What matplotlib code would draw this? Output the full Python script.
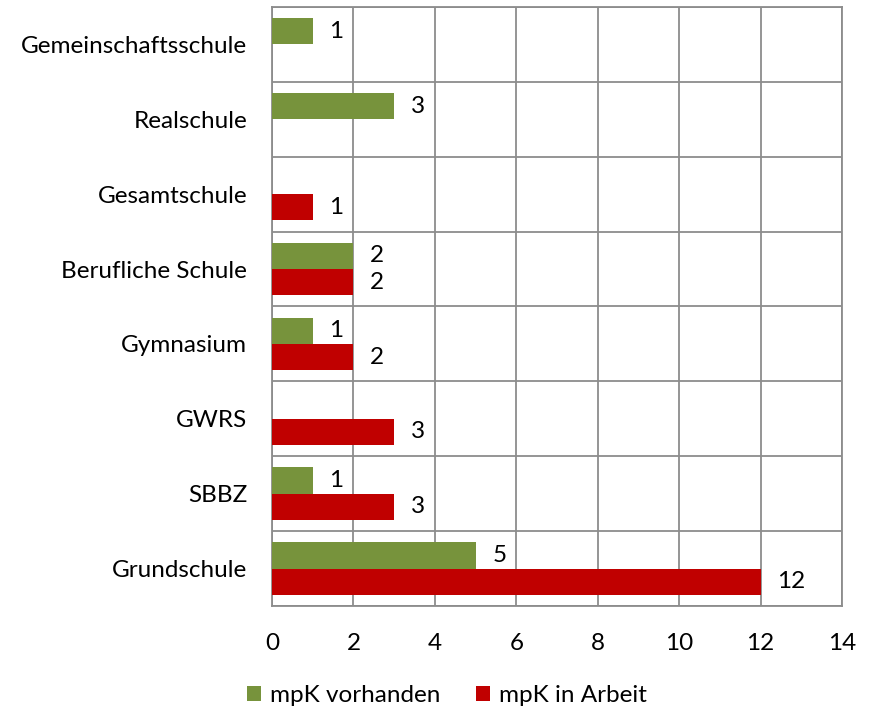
import numpy as np
import matplotlib.pyplot as plt

plt.rcParams['font.family'] = ['Lato', 'DejaVu Sans']

schools = ['Grundschule', 'SBBZ', 'GWRS', 'Gymnasium', 'Berufliche Schule',
           'Gesamtschule', 'Realschule', 'Gemeinschaftsschule']
vorhanden = [5, 1, 0, 1, 2, 0, 3, 1]
in_arbeit = [12, 3, 3, 2, 2, 1, 0, 0]
x_ticks = [0, 2, 4, 6, 8, 10, 12, 14]

green = '#77933C'
red = '#C00000'
grid_col = '#8C8C8C'
fs = 17.5

fig = plt.figure(figsize=(8.73, 7.07), dpi=100)
ax = fig.add_axes([0.3116, 0.1429, 0.6529, 0.8472])

y = np.arange(len(schools))
h = 0.35
b1 = ax.barh(y + h / 2, vorhanden, height=h, color=green, label='mpK vorhanden', zorder=3)
b2 = ax.barh(y - h / 2, in_arbeit, height=h, color=red, label='mpK in Arbeit', zorder=3)

for bars, vals in [(b1, vorhanden), (b2, in_arbeit)]:
    labels = [str(v) if v else '' for v in vals]
    ax.bar_label(bars, labels=labels, padding=12, fontsize=fs, color='black')

ax.set_xlim(0, 14)
ax.set_ylim(-0.5, len(schools) - 0.5)
ax.set_xticks(x_ticks)
ax.set_yticks(y)
ax.set_yticklabels(schools)
ax.set_yticks(np.arange(len(schools) + 1) - 0.5, minor=True)
ax.grid(True, axis='x', color=grid_col, linewidth=1.3, zorder=0)
ax.grid(True, axis='y', which='minor', color=grid_col, linewidth=1.3, zorder=0)
ax.tick_params(axis='both', which='both', length=0, labelsize=fs)
ax.tick_params(axis='y', pad=18)
ax.tick_params(axis='x', pad=19.5)
for s in ax.spines.values():
    s.set_color(grid_col)
    s.set_linewidth(1.3)

fig.legend(loc='lower center', bbox_to_anchor=(0.512, -0.03), ncol=2, frameon=False,
           fontsize=fs, handlelength=0.58, handleheight=0.58, columnspacing=1.45,
           handletextpad=0.37)

fig.savefig('out.png', dpi=100)
